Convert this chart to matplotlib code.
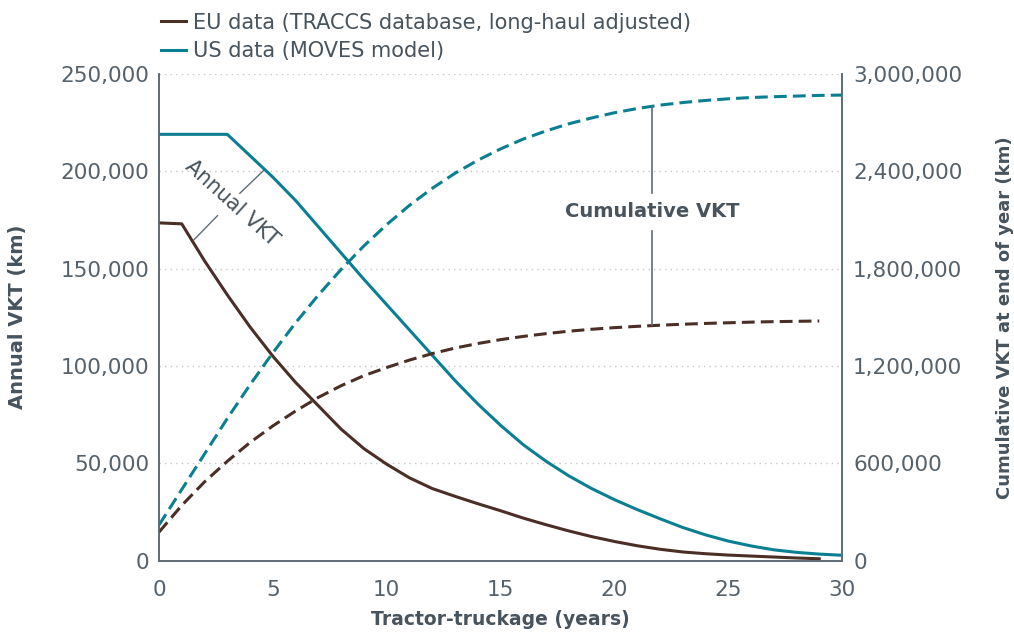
import numpy as np
import matplotlib.pyplot as plt
from matplotlib.lines import Line2D

plt.rcParams['font.family'] = ['DejaVu Sans']

# annual vehicle km travelled by age (years)
eu_years = list(range(0, 30))
eu_annual = [173500, 173000, 154000, 136500, 120000, 105000, 91500, 79500, 67500, 57500,
             49500, 42500, 37000, 33000, 29200, 25600, 21800, 18400, 15200, 12300,
             9800, 7600, 5800, 4400, 3500, 2800, 2300, 1800, 1300, 900]
eu_cumulative = [175000, 340000, 485000, 612000, 728000, 830000, 922000, 1006000, 1078000, 1140000,
                 1190000, 1236000, 1276000, 1310000, 1338000, 1362000, 1382000, 1399000, 1414000, 1426000,
                 1436000, 1444000, 1451000, 1457000, 1462000, 1466000, 1470000, 1473000, 1475000, 1477000]

us_years = list(range(0, 31))
us_annual = [219000, 219000, 219000, 219000, 208000, 197000, 185000, 171500, 158000, 144500,
             131500, 118500, 105500, 92500, 80500, 69500, 59500, 51000, 43500, 37000,
             31300, 26200, 21500, 17000, 13200, 10000, 7500, 5500, 4200, 3300, 2700]
us_cumulative = [219000, 438000, 657000, 876000, 1084000, 1281000, 1466000, 1637000, 1795000, 1940000,
                 2071000, 2190000, 2295000, 2388000, 2468000, 2538000, 2599000, 2649000, 2693000, 2729000,
                 2761000, 2787000, 2808000, 2824000, 2837000, 2847000, 2855000, 2860000, 2864000, 2868000, 2870000]

left_ticks = [0, 50000, 100000, 150000, 200000, 250000]
right_ticks = [0, 600000, 1200000, 1800000, 2400000, 3000000]
x_ticks = [0, 5, 10, 15, 20, 25, 30]

eu_color = '#4b2f27'
us_color = '#0b7f92'
text_color = '#47535d'
tick_color = '#55616b'
spine_color = '#5f6b75'

fig = plt.figure(figsize=(10.14, 6.32), dpi=100)
ax = fig.add_axes([0.1568, 0.1131, 0.6736, 0.7698])
ax2 = ax.twinx()

ax.plot(eu_years, eu_annual, color=eu_color, lw=2.2, zorder=3)
ax.plot(us_years, us_annual, color=us_color, lw=2.2, zorder=3)
ax2.plot(eu_years, eu_cumulative, color=eu_color, lw=2.2, dashes=(4.2, 2.0))
ax2.plot(us_years, us_cumulative, color=us_color, lw=2.2, dashes=(4.2, 2.0))

ax.set_xlim(0, 30)
ax.set_ylim(0, 250000)
ax2.set_ylim(0, 3000000)
ax.set_xticks(x_ticks)
ax.set_yticks(left_ticks)
ax2.set_yticks(right_ticks)
ax.set_yticklabels([f'{v:,}' for v in left_ticks])
ax2.set_yticklabels([f'{v:,}' for v in right_ticks])

ax.grid(axis='y', color='#c8c8c8', linestyle=(0, (1, 3)), lw=1)
ax.set_axisbelow(True)

for a in (ax, ax2):
    a.spines['top'].set_visible(False)
    for s in ('left', 'right', 'bottom'):
        a.spines[s].set_color(spine_color)
        a.spines[s].set_linewidth(1.2)
    a.tick_params(length=0, labelsize=15.5, labelcolor=tick_color)
ax.tick_params(axis='x', pad=14)
ax.tick_params(axis='y', pad=7)
ax2.tick_params(axis='y', pad=8)

ax.set_xlabel('Tractor-truckage (years)', fontsize=13.5, fontweight='bold', color=text_color, labelpad=7)
ax.set_ylabel('Annual VKT (km)', fontsize=14, fontweight='bold', color=text_color, labelpad=24)
ax2.set_ylabel('Cumulative VKT at end of year (km)', fontsize=13, fontweight='bold',
               color=text_color, rotation=90, labelpad=24)

# annotations
ax.text(3.19, 183600, 'Annual VKT', rotation=-42, fontsize=15, color=text_color,
        ha='center', va='center', rotation_mode='anchor')
ax.plot([3.55, 4.62], [188700, 200700], color=spine_color, lw=1)
ax.plot([1.55, 2.57], [165000, 177200], color=spine_color, lw=1)

ax2.text(21.65, 179200 * 12, 'Cumulative VKT', fontsize=14, fontweight='bold', color=text_color,
         ha='center', va='center')
ax2.plot([21.65, 21.65], [2794000, 2266000], color=spine_color, lw=1.2)
ax2.plot([21.65, 21.65], [2032000, 1452000], color=spine_color, lw=1.2)

handles = [Line2D([], [], color=eu_color, lw=2.2), Line2D([], [], color=us_color, lw=2.2)]
labels = ['EU data (TRACCS database, long-haul adjusted)', 'US data (MOVES model)']
fig.legend(handles, labels, loc='upper left', bbox_to_anchor=(0.151, 0.993), frameon=False,
           fontsize=15, labelcolor=text_color, handlelength=1.2, handletextpad=0.3,
           labelspacing=0.4, borderaxespad=0)

fig.savefig('out.png', dpi=100)
